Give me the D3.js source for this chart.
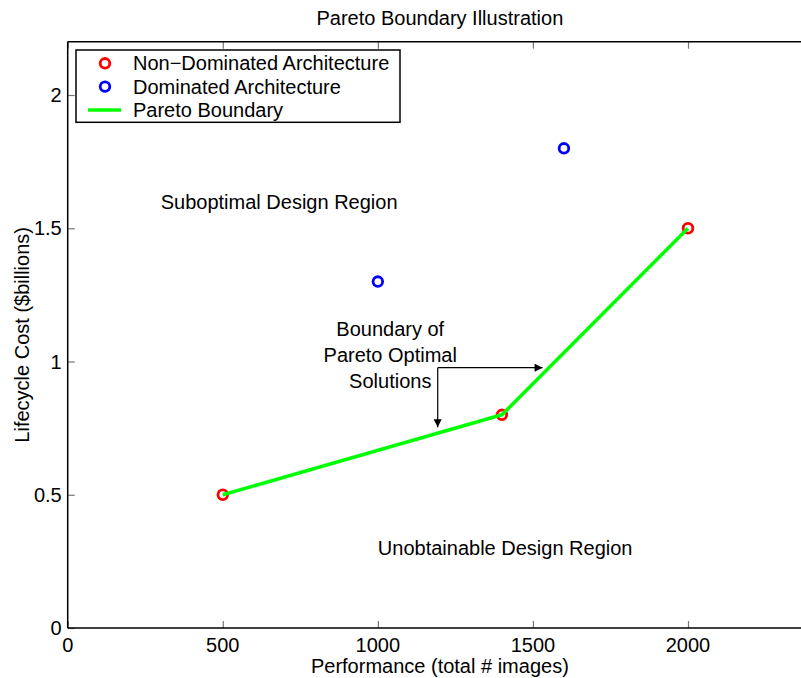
<!DOCTYPE html>
<html>
<head>
<meta charset="utf-8">
<script src="https://cdn.jsdelivr.net/npm/d3@7"></script>
<style>
  html, body { margin: 0; padding: 0; background: #fff; }
  text { font-family: "Liberation Sans", Arial, Helvetica, sans-serif; }
</style>
</head>
<body>
<svg id="chart" width="801" height="678"></svg>
<script>
// ---- data ----
const nonDominated = [ {x: 500, y: 0.5}, {x: 1400, y: 0.8}, {x: 2000, y: 1.5} ];
const dominated = [ {x: 1000, y: 1.3}, {x: 1600, y: 1.8} ];
const paretoBoundary = [ {x: 500, y: 0.5}, {x: 1400, y: 0.8}, {x: 2000, y: 1.5} ];
const xTicks = [0, 500, 1000, 1500, 2000];
const yTicks = [0, 0.5, 1, 1.5, 2];
const xDomain = [0, 2400];
const yDomain = [0, 2.2];
const legendLabels = ["Non\u2212Dominated Architecture", "Dominated Architecture", "Pareto Boundary"];
const titleText = "Pareto Boundary Illustration";
const xLabelText = "Performance (total # images)";
const yLabelText = "Lifecycle Cost ($billions)";
const regionNotes = [
  {x: 300, y: 1.6, text: "Suboptimal Design Region"},
  {x: 1000, y: 0.3, text: "Unobtainable Design Region"}
];
const boundaryNote = {x: 1040, y: 1.0, lines: ["Boundary of", "Pareto Optimal", "Solutions"]};
// arrows (data coords): common origin, two tips
const arrowOrigin = {x: 1193, y: 0.977};
const arrowTips = [ {x: 1531, y: 0.977}, {x: 1193, y: 0.753} ];

(function () {
// ---- layout ----
const svg = d3.select("#chart");
const pL = 67.7, pB = 628, pT = 41.7;
const pxPerX = 0.31015;
const pR = pL + (xDomain[1] - xDomain[0]) * pxPerX;
const x = d3.scaleLinear().domain(xDomain).range([pL, pR]);
const y = d3.scaleLinear().domain(yDomain).range([pB, pT]);
const FS = 20;

// defs for arrowheads
svg.append("defs").append("marker")
  .attr("id", "arrowhead").attr("viewBox", "0 0 10 10")
  .attr("refX", 10).attr("refY", 5)
  .attr("markerWidth", 11).attr("markerHeight", 8)
  .attr("markerUnits", "userSpaceOnUse")
  .attr("orient", "auto")
  .append("path").attr("d", "M0,0 L10,5 L0,10 Z").attr("fill", "#000");

// ticks (inward), via d3 axes
const tickLen = 7;
const gB = svg.append("g").attr("transform", `translate(0,${pB})`)
  .call(d3.axisBottom(x).tickValues(xTicks).tickSize(-tickLen).tickFormat(""));
const gT = svg.append("g").attr("transform", `translate(0,${pT})`)
  .call(d3.axisTop(x).tickValues(xTicks).tickSize(-tickLen).tickFormat(""));
const gL = svg.append("g").attr("transform", `translate(${pL},0)`)
  .call(d3.axisLeft(y).tickValues(yTicks).tickSize(-tickLen).tickFormat(""));
[gB, gT, gL].forEach(g => {
  g.select(".domain").remove();
  g.selectAll(".tick line").attr("stroke", "#777").attr("stroke-width", 1.2);
});

// axis box lines
svg.append("line").attr("x1", pL).attr("x2", pR).attr("y1", pB).attr("y2", pB)
  .attr("stroke", "#000").attr("stroke-width", 1.5);
svg.append("line").attr("x1", pL).attr("x2", pR).attr("y1", pT).attr("y2", pT)
  .attr("stroke", "#000").attr("stroke-width", 1.5);
svg.append("line").attr("x1", pL).attr("x2", pL).attr("y1", pT).attr("y2", pB)
  .attr("stroke", "#000").attr("stroke-width", 1.5);

// tick labels
svg.append("g").selectAll("text").data(xTicks).join("text")
  .attr("x", d => x(d)).attr("y", pB + 24)
  .attr("text-anchor", "middle").attr("font-size", FS).text(d => d);
svg.append("g").selectAll("text").data(yTicks).join("text")
  .attr("x", pL - 6).attr("y", d => y(d) + 7)
  .attr("text-anchor", "end").attr("font-size", FS).text(d => d);

// title and labels
svg.append("text").attr("x", (pL + pR) / 2).attr("y", 25)
  .attr("text-anchor", "middle").attr("font-size", FS).text(titleText);
svg.append("text").attr("x", (pL + pR) / 2).attr("y", 673)
  .attr("text-anchor", "middle").attr("font-size", FS).text(xLabelText);
svg.append("text").attr("transform", `translate(29,${(pT + pB) / 2}) rotate(-90)`)
  .attr("text-anchor", "middle").attr("font-size", FS).text(yLabelText);

// markers
const r = 4.8, sw = 2.8;
svg.append("g").selectAll("circle").data(nonDominated).join("circle")
  .attr("cx", d => x(d.x)).attr("cy", d => y(d.y)).attr("r", r)
  .attr("fill", "none").attr("stroke", "#ff0000").attr("stroke-width", sw);
svg.append("g").selectAll("circle").data(dominated).join("circle")
  .attr("cx", d => x(d.x)).attr("cy", d => y(d.y)).attr("r", r)
  .attr("fill", "none").attr("stroke", "#0000ff").attr("stroke-width", sw);

// pareto line
svg.append("path").datum(paretoBoundary)
  .attr("d", d3.line().x(d => x(d.x)).y(d => y(d.y)))
  .attr("fill", "none").attr("stroke", "#00ff00").attr("stroke-width", 3.5)
  .attr("stroke-linejoin", "round");

// region texts
svg.append("g").selectAll("text").data(regionNotes).join("text")
  .attr("x", d => x(d.x)).attr("y", d => y(d.y) + 7)
  .attr("font-size", FS).text(d => d.text);

// boundary note
const bn = svg.append("text").attr("text-anchor", "middle").attr("font-size", FS);
boundaryNote.lines.forEach((l, i) => {
  bn.append("tspan").attr("x", x(boundaryNote.x)).attr("y", 336 + i * 26).text(l);
});

// arrows
arrowTips.forEach(t => {
  svg.append("line")
    .attr("x1", x(arrowOrigin.x)).attr("y1", y(arrowOrigin.y))
    .attr("x2", x(t.x)).attr("y2", y(t.y))
    .attr("stroke", "#000").attr("stroke-width", 1.2)
    .attr("marker-end", "url(#arrowhead)");
});

// legend
const lg = svg.append("g");
lg.append("rect").attr("x", 76).attr("y", 50).attr("width", 324).attr("height", 72.3)
  .attr("fill", "#fff").attr("stroke", "#000").attr("stroke-width", 1.5);
const rowY = i => 63.3 + i * 23.3;
lg.append("circle").attr("cx", 105).attr("cy", rowY(0)).attr("r", r)
  .attr("fill", "none").attr("stroke", "#ff0000").attr("stroke-width", sw);
lg.append("circle").attr("cx", 105).attr("cy", rowY(1)).attr("r", r)
  .attr("fill", "none").attr("stroke", "#0000ff").attr("stroke-width", sw);
lg.append("line").attr("x1", 88).attr("x2", 121).attr("y1", rowY(2)).attr("y2", rowY(2))
  .attr("stroke", "#00ff00").attr("stroke-width", 3.5);
lg.selectAll("text.lbl").data(legendLabels).join("text").attr("class", "lbl")
  .attr("x", 133).attr("y", (d, i) => rowY(i) + 7).attr("font-size", FS).text(d => d);
})();
</script>
</body>
</html>
